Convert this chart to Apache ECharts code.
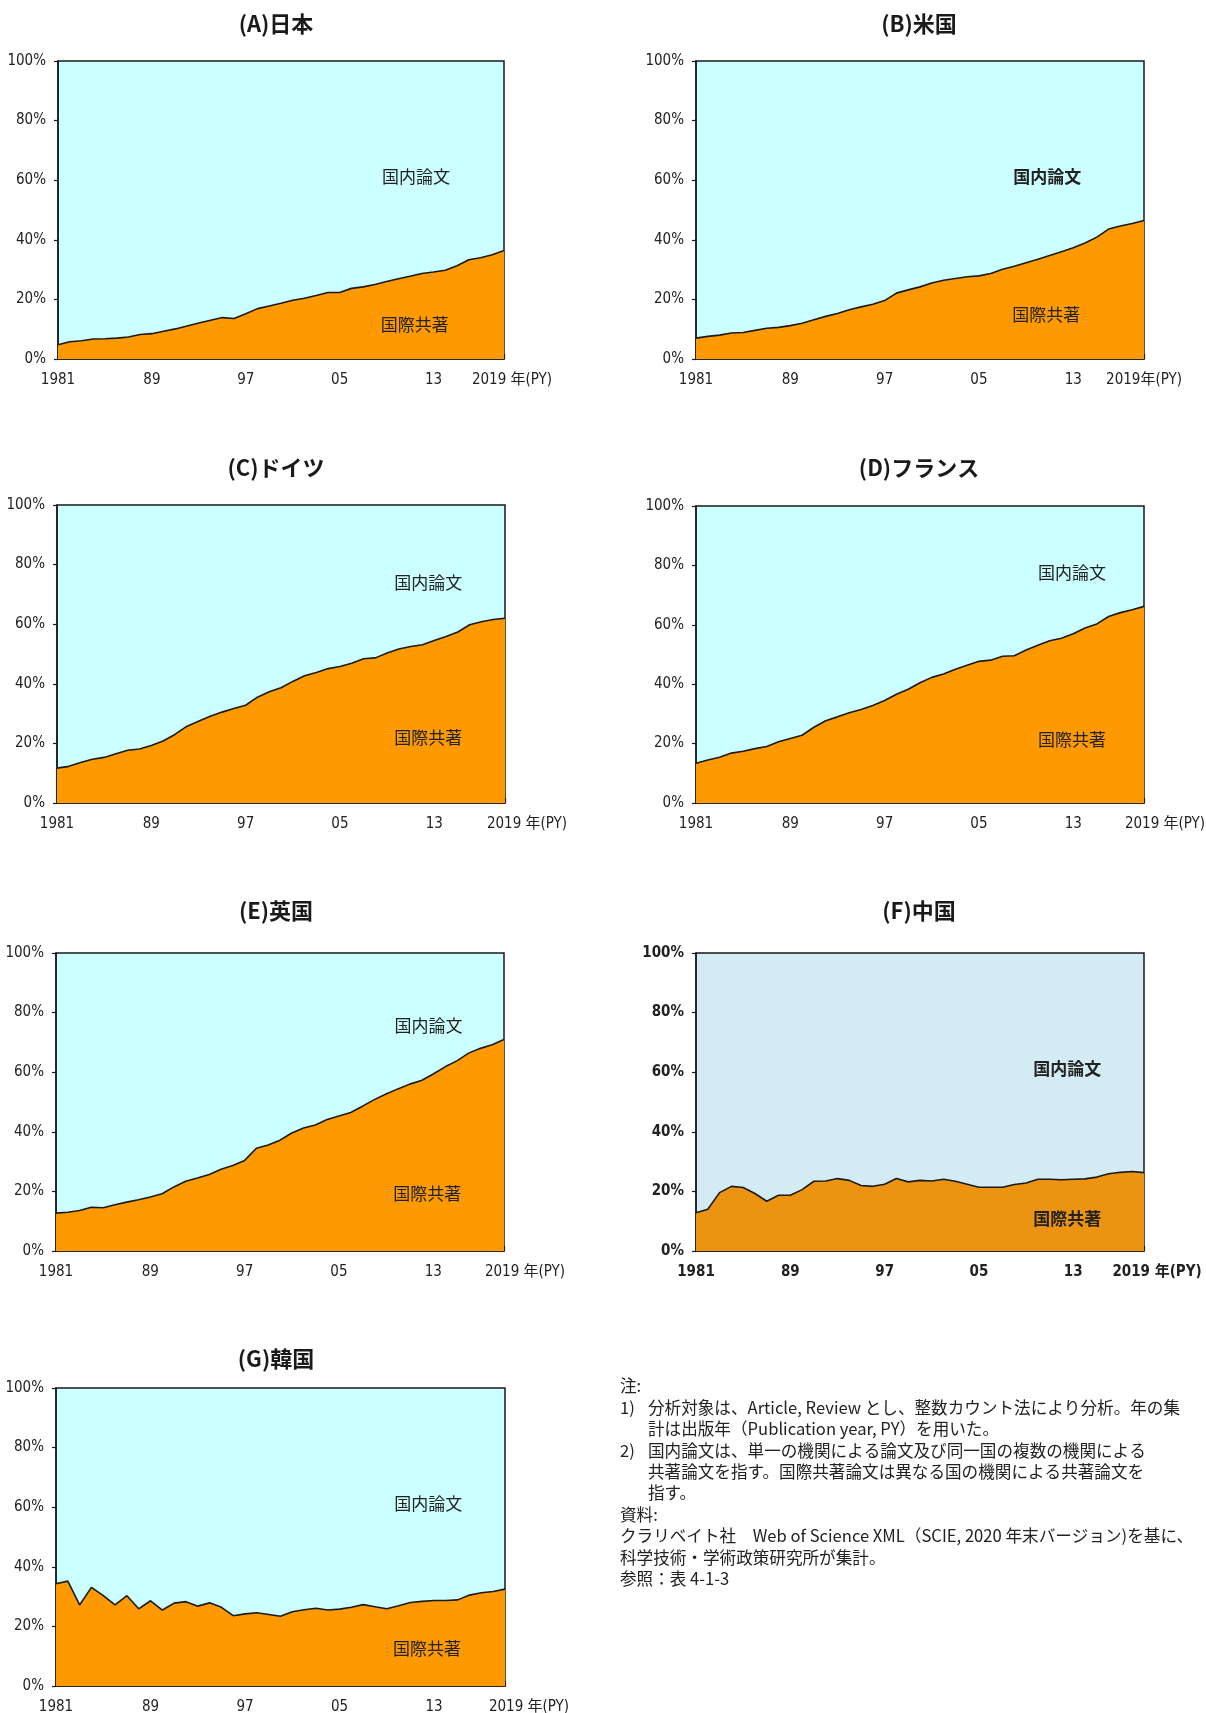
<!DOCTYPE html>
<html>
<head>
<meta charset="utf-8">
<script src="https://cdn.jsdelivr.net/npm/echarts@6/dist/echarts.min.js"></script>
<style>
  html, body { margin: 0; padding: 0; background: #ffffff; }
  #chart { width: 1206px; height: 1713px; }
</style>
</head>
<body>
<div id="chart"></div>
<script>
// Publication years (PY)
const years = [1981, 1982, 1983, 1984, 1985, 1986, 1987, 1988, 1989, 1990,
               1991, 1992, 1993, 1994, 1995, 1996, 1997, 1998, 1999, 2000,
               2001, 2002, 2003, 2004, 2005, 2006, 2007, 2008, 2009, 2010,
               2011, 2012, 2013, 2014, 2015, 2016, 2017, 2018, 2019];

// Share of internationally co-authored papers (%), by country
const japan   = [4.8, 5.8, 6.1, 6.7, 6.8, 7.0, 7.4, 8.2, 8.5, 9.3,
                 10.1, 11.1, 12.1, 13.0, 13.9, 13.6, 15.2, 16.9, 17.8, 18.7,
                 19.7, 20.4, 21.3, 22.3, 22.3, 23.7, 24.2, 25.0, 26.0, 26.9,
                 27.8, 28.7, 29.2, 29.8, 31.3, 33.3, 34.0, 35.0, 36.4];
const usa     = [7.0, 7.6, 8.0, 8.7, 8.9, 9.6, 10.3, 10.6, 11.2, 12.0,
                 13.2, 14.3, 15.3, 16.5, 17.5, 18.4, 19.6, 22.1, 23.2, 24.2,
                 25.5, 26.4, 27.0, 27.6, 27.9, 28.7, 30.1, 31.1, 32.3, 33.5,
                 34.7, 36.0, 37.3, 38.9, 40.9, 43.6, 44.6, 45.5, 46.5];
const germany = [11.7, 12.3, 13.6, 14.7, 15.3, 16.5, 17.7, 18.1, 19.3, 20.8,
                 23.0, 25.7, 27.4, 29.1, 30.5, 31.7, 32.8, 35.5, 37.3, 38.7,
                 40.8, 42.7, 43.8, 45.1, 45.8, 46.9, 48.4, 48.7, 50.3, 51.7,
                 52.5, 53.1, 54.5, 55.9, 57.4, 59.8, 60.8, 61.6, 62.0];
const france  = [13.4, 14.5, 15.4, 16.8, 17.4, 18.3, 19.0, 20.6, 21.7, 22.8,
                 25.5, 27.7, 29.0, 30.4, 31.5, 32.8, 34.5, 36.6, 38.3, 40.5,
                 42.3, 43.4, 45.0, 46.4, 47.7, 48.1, 49.4, 49.6, 51.5, 53.1,
                 54.6, 55.5, 57.0, 58.9, 60.3, 62.8, 64.1, 65.1, 66.2];
const uk      = [12.7, 13.0, 13.6, 14.7, 14.5, 15.5, 16.4, 17.2, 18.1, 19.2,
                 21.5, 23.4, 24.5, 25.7, 27.4, 28.7, 30.4, 34.5, 35.6, 37.2,
                 39.6, 41.3, 42.3, 44.1, 45.3, 46.5, 48.6, 50.8, 52.7, 54.4,
                 56.0, 57.2, 59.4, 61.8, 63.8, 66.4, 68.0, 69.2, 71.0];
const china   = [12.8, 14.0, 19.6, 21.7, 21.3, 19.3, 16.7, 18.7, 18.7, 20.6,
                 23.4, 23.5, 24.3, 23.7, 22.0, 21.7, 22.4, 24.3, 23.2, 23.7,
                 23.5, 24.1, 23.4, 22.4, 21.4, 21.4, 21.4, 22.3, 22.8, 24.1,
                 24.1, 23.9, 24.1, 24.2, 24.8, 25.9, 26.4, 26.7, 26.3];
const korea   = [34.3, 35.2, 27.2, 33.1, 30.3, 27.2, 30.3, 25.9, 28.6, 25.5,
                 27.8, 28.3, 26.8, 27.9, 26.4, 23.6, 24.2, 24.6, 24.0, 23.4,
                 24.9, 25.6, 26.1, 25.5, 25.8, 26.4, 27.3, 26.6, 25.9, 26.9,
                 28.0, 28.4, 28.7, 28.7, 28.9, 30.5, 31.3, 31.7, 32.5];

const panelSeries = [japan, usa, germany, france, uk, china, korea];
const panelTitles = ['(A)日本', '(B)米国', '(C)ドイツ', '(D)フランス', '(E)英国', '(F)中国', '(G)韓国'];

// Tick labels on the year axis
const yearLabels = { 1981: '1981', 1989: '89', 1997: '97', 2005: '05', 2013: '13' };
const lastYearLabels = ['2019 年(PY)', '2019年(PY)', '2019 年(PY)', '2019 年(PY)', '2019 年(PY)', '2019 年(PY)', '2019 年(PY)'];
const shareTicks = [0, 20, 40, 60, 80, 100];

const domesticText = '国内論文';
const intlText = '国際共著';

const noteLines = [
  { mark: '注:', text: '' },
  { mark: '1)', text: '分析対象は、Article, Review とし、整数カウント法により分析。年の集' },
  { mark: '', text: '計は出版年（Publication year, PY）を用いた。' },
  { mark: '2)', text: '国内論文は、単一の機関による論文及び同一国の複数の機関による' },
  { mark: '', text: '共著論文を指す。国際共著論文は異なる国の機関による共著論文を' },
  { mark: '', text: '指す。' },
  { mark: '資料:', text: '' },
  { mark: 'クラリベイト社　Web of Science XML（SCIE, 2020 年末バージョン)を基に、', text: '' },
  { mark: '科学技術・学術政策研究所が集計。', text: '' },
  { mark: '参照：表 4-1-3', text: '' }
];

// ---- layout & styling ----
const CJK = "'Noto Sans CJK JP', 'Noto Sans', sans-serif";
const NUM = "'Liberation Sans Narrow', 'DejaVu Sans Condensed', 'Liberation Sans', sans-serif";

const layout = [
  { left: 58,  top: 61,   width: 446, height: 298, titleX: 276, titleY: 24,   lastPad: 16, dom: [2011.5, 61.2], intl: [2011.4, 11.7] },
  { left: 696, top: 61,   width: 448, height: 298, titleX: 919, titleY: 24,   lastPad: 0,  dom: [2010.8, 61.2], intl: [2010.7, 15.0], domBold: true },
  { left: 57,  top: 505,  width: 448, height: 298, titleX: 276, titleY: 468,  lastPad: 44, dom: [2012.5, 74.0], intl: [2012.5, 22.0] },
  { left: 696, top: 506,  width: 448, height: 297, titleX: 919, titleY: 468,  lastPad: 42, dom: [2012.9, 77.6], intl: [2012.9, 21.3] },
  { left: 56,  top: 953,  width: 448, height: 298, titleX: 276, titleY: 911,  lastPad: 42, dom: [2012.6, 75.8], intl: [2012.5, 19.4] },
  { left: 696, top: 953,  width: 448, height: 298, titleX: 919, titleY: 911,  lastPad: 26, dom: [2012.5, 61.2], intl: [2012.5, 11.0], bold: true,
    bg: '#d3ebf3', fill: '#ec9412' },
  { left: 56,  top: 1388, width: 449, height: 298, titleX: 276, titleY: 1359, lastPad: 48, dom: [2012.5, 61.2], intl: [2012.4, 12.5] }
];

const chart = echarts.init(document.getElementById('chart'), null, { renderer: 'canvas' });

const grids = [], xAxes = [], yAxes = [], series = [], graphics = [];

layout.forEach((L, i) => {
  const bold = !!L.bold;
  grids.push({
    left: L.left, top: L.top, width: L.width, height: L.height,
    show: true, backgroundColor: L.bg || '#ccffff',
    borderColor: '#1a1a1a', borderWidth: 1.5,
    containLabel: false, outerBoundsMode: 'none'
  });
  xAxes.push({
    gridIndex: i, type: 'value', min: years[0], max: years[years.length - 1], interval: 1,
    axisLine: { show: true, lineStyle: { color: '#1a1a1a', width: 1.5 } },
    axisTick: { show: true, inside: true, length: 5, lineStyle: { color: '#1a1a1a', width: 1.2 } },
    splitLine: { show: false },
    axisLabel: {
      show: true, margin: 14, hideOverlap: false, showMinLabel: true, showMaxLabel: true,
      color: '#222', fontFamily: NUM, fontSize: 15, fontWeight: bold ? 'bold' : 'normal',
      formatter: v => {
        if (v === years[years.length - 1]) return '{last|' + lastYearLabels[i] + '}';
        return yearLabels[v] || '';
      },
      rich: {
        last: { fontFamily: NUM + ", 'Noto Sans CJK JP'", fontSize: 15,
                color: '#222', fontWeight: bold ? 'bold' : 'normal', padding: [0, 0, 0, L.lastPad] }
      }
    }
  });
  yAxes.push({
    gridIndex: i, type: 'value', min: shareTicks[0], max: shareTicks[shareTicks.length - 1], interval: 20,
    axisLine: { show: true, lineStyle: { color: '#1a1a1a', width: 1.5 } },
    axisTick: { show: true, inside: false, length: 4, lineStyle: { color: '#1a1a1a', width: 1.2 } },
    splitLine: { show: false },
    axisLabel: { margin: 12, color: '#222', fontFamily: NUM, fontSize: 15, fontWeight: bold ? 'bold' : 'normal',
                 formatter: '{value}%' }
  });
  series.push({
    type: 'line', xAxisIndex: i, yAxisIndex: i,
    data: years.map((y, k) => [y, panelSeries[i][k]]),
    symbol: 'none', smooth: false,
    lineStyle: { color: '#1a1a1a', width: 1.6 },
    areaStyle: { color: L.fill || '#ff9900', opacity: 1 },
    z: 2,
    markPoint: {
      symbol: 'rect', symbolSize: 1, silent: true,
      itemStyle: { color: 'rgba(0,0,0,0)' },
      label: { show: true, position: 'inside', color: '#222', fontFamily: CJK, fontSize: 17 },
      data: [
        { coord: L.dom, label: { formatter: domesticText, fontWeight: (L.domBold || bold) ? 'bold' : 'normal' } },
        { coord: L.intl, label: { formatter: intlText, fontWeight: bold ? 'bold' : 'normal' } }
      ]
    }
  });
  graphics.push({
    type: 'text', x: L.titleX, y: L.titleY,
    style: { text: panelTitles[i], fill: '#1a1a1a', font: "bold 22px " + CJK, align: 'center', verticalAlign: 'middle' }
  });
});

// Notes block
const noteX = 620, noteIndentX = 648, noteY0 = 1386, noteStep = 21.4;
noteLines.forEach((ln, k) => {
  const y = noteY0 + k * noteStep;
  if (ln.mark) {
    graphics.push({ type: 'text', x: noteX, y: y,
      style: { text: ln.mark, fill: '#222', font: "16.6px " + CJK, verticalAlign: 'middle' } });
  }
  if (ln.text) {
    graphics.push({ type: 'text', x: noteIndentX, y: y,
      style: { text: ln.text, fill: '#222', font: "16.6px " + CJK, verticalAlign: 'middle' } });
  }
});

chart.setOption({
  animation: false,
  backgroundColor: '#ffffff',
  grid: grids,
  xAxis: xAxes,
  yAxis: yAxes,
  series: series,
  graphic: graphics
});
</script>
</body>
</html>
